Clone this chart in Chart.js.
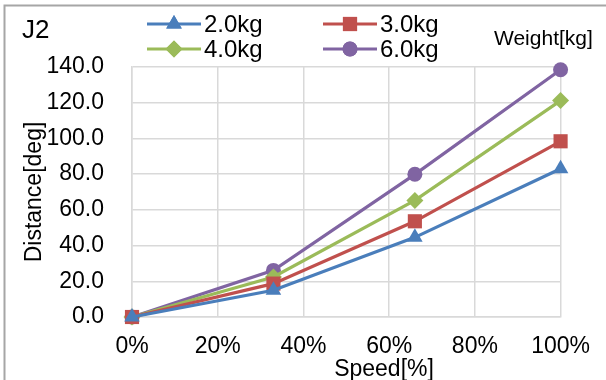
<!DOCTYPE html>
<html>
<head>
<meta charset="utf-8">
<script src="https://cdn.jsdelivr.net/npm/chart.js@4/dist/chart.umd.min.js"></script>
<style>
html,body{margin:0;padding:0;background:#fff;}
#wrap{position:relative;width:606px;height:380px;}
</style>
</head>
<body>
<div id="wrap"><canvas id="c" width="606" height="380"></canvas></div>
<script>
const speeds = [0, 33, 66, 100];
const seriesNames = ['2.0kg', '3.0kg', '4.0kg', '6.0kg'];
const kg2 = [0, 15.0, 44.6, 83.0];
const kg3 = [0, 18.7, 53.6, 98.4];
const kg4 = [0, 22.4, 65.3, 121.2];
const kg6 = [0, 26.1, 79.9, 138.5];
const yTicks = [0, 20, 40, 60, 80, 100, 120, 140];
const xTicks = [0, 20, 40, 60, 80, 100];
const chartTitle = 'J2';
const legendTitle = 'Weight[kg]';
const xTitle = 'Speed[%]';
const yTitle = 'Distance[deg]';

const FONT = '"Liberation Sans", Arial, sans-serif';
const colors = ['#4A7EBB', '#C0504D', '#9BBB59', '#8064A2'];
const styles = ['triangle', 'rect', 'rectRot', 'circle'];
const radii = [9, 10, 8.5, 7.5];
const values = [kg2, kg3, kg4, kg6];

const datasets = values.map((v, i) => ({
  label: seriesNames[i],
  data: speeds.map((s, j) => ({x: s, y: v[j]})),
  borderColor: colors[i],
  backgroundColor: colors[i],
  borderWidth: 3.2,
  pointStyle: styles[i],
  pointRadius: radii[i],
  pointHoverRadius: radii[i],
  pointBorderWidth: 0,
  pointBackgroundColor: colors[i],
  pointBorderColor: colors[i],
  tension: 0,
  clip: false
}));

const extras = {
  id: 'extras',
  afterDraw(chart) {
    const ctx = chart.ctx;
    ctx.save();
    // frame
    ctx.strokeStyle = '#a6a6a6';
    ctx.lineWidth = 2;
    ctx.beginPath();
    ctx.moveTo(4.5, 380);
    ctx.lineTo(4.5, 5.5);
    ctx.lineTo(606, 5.5);
    ctx.stroke();
    // titles
    ctx.fillStyle = '#000';
    ctx.textBaseline = 'alphabetic';
    ctx.textAlign = 'left';
    ctx.font = '26px ' + FONT;
    ctx.fillText(chartTitle, 22, 38);
    ctx.font = '21px ' + FONT;
    ctx.fillText(legendTitle, 494, 45);
    ctx.font = '23px ' + FONT;
    ctx.textAlign = 'center';
    ctx.fillText(xTitle, 384, 376);
    // legend
    const pos = [[147, 24], [323, 24], [147, 49], [323, 49]];
    chart.data.datasets.forEach((ds, i) => {
      const [x0, y0] = pos[i];
      ctx.strokeStyle = ds.borderColor;
      ctx.lineWidth = 3.2;
      ctx.beginPath();
      ctx.moveTo(x0, y0);
      ctx.lineTo(x0 + 54, y0);
      ctx.stroke();
      ctx.fillStyle = ds.backgroundColor;
      Chart.helpers.drawPoint(ctx, {pointStyle: ds.pointStyle, radius: ds.pointRadius, rotation: 0, borderWidth: 0}, x0 + 27, y0);
      ctx.fill();
      ctx.fillStyle = '#000';
      ctx.textAlign = 'left';
      ctx.textBaseline = 'middle';
      ctx.font = '24px ' + FONT;
      ctx.fillText(ds.label, x0 + 57, y0 + 1);
    });
    ctx.restore();
  }
};

new Chart(document.getElementById('c'), {
  type: 'line',
  data: {datasets},
  plugins: [extras],
  options: {
    responsive: false,
    animation: false,
    devicePixelRatio: 1,
    layout: {padding: {top: 67, right: 43, left: 0, bottom: 0}},
    plugins: {legend: {display: false}, tooltip: {enabled: false}},
    scales: {
      x: {
        type: 'linear',
        min: 0, max: 100,
        afterBuildTicks(scale) { scale.ticks = xTicks.map(v => ({value: v})); },
        afterFit(scale) { scale.height = 63; },
        ticks: {
          callback: v => v + '%',
          color: '#000',
          font: {family: FONT, size: 23},
          padding: 16,
          maxRotation: 0
        },
        grid: {color: '#d9d9d9', lineWidth: 1.5, drawTicks: false},
        border: {display: true, color: '#d9d9d9', width: 1.5}
      },
      y: {
        type: 'linear',
        min: 0, max: 140,
        afterBuildTicks(scale) {
          const t = [];
          for (let v = 0; v <= 140; v += 10) t.push({value: v});
          scale.ticks = t;
        },
        afterFit(scale) { scale.width = 132; },
        ticks: {
          callback: v => yTicks.includes(v) ? v.toFixed(1) : '',
          color: '#000',
          font: {family: FONT, size: 23},
          padding: 28
        },
        grid: {
          color: c => (c.tick && c.tick.value % 20 === 0) ? '#d9d9d9' : '#f0f0f0',
          lineWidth: 1.5,
          drawTicks: false
        },
        border: {display: true, color: '#d9d9d9', width: 1.5},
        title: {
          display: true,
          text: yTitle,
          color: '#000',
          font: {family: FONT, size: 23},
          padding: {top: 21, bottom: 0}
        }
      }
    }
  }
});
</script>
</body>
</html>
